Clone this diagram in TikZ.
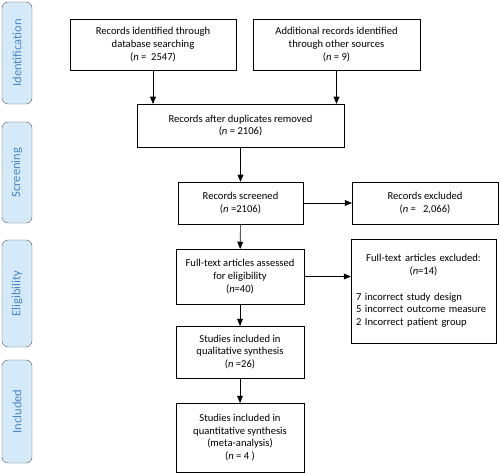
\documentclass[tikz,border=0pt]{standalone}
\usepackage{fontspec}
\setmainfont{Carlito}
\usepackage{tikz}
\usetikzlibrary{arrows,positioning}

\definecolor{stagefill}{HTML}{D5EAF8}
\definecolor{stagetext}{HTML}{4A86C5}
\definecolor{stageline}{HTML}{4D5966}

\begin{document}
\begin{tikzpicture}[
x=1pt,y=-1pt,
font=\fontsize{10.6}{12.8}\selectfont,
box/.style={draw,thin,align=center,inner sep=2pt},
stage/.style={draw=stageline,fill=stagefill,rounded corners=6pt,thin,
  minimum width=30pt,text=stagetext,font=\fontsize{12.5}{14}\selectfont},
link/.style={->,>=triangle 45,semithick}]
    % Stage labels
    \useasboundingbox (0,0) rectangle (500,473);
    \node[stage,minimum height=102pt] (ident) at (17,53)
        {\rotatebox{90}{Identification}};
    \node[stage,minimum height=101pt] (screen) at (17,172.5)
        {\rotatebox{90}{Screening}};
    \node[stage,minimum height=107pt] (elig) at (17,293.5)
        {\rotatebox{90}{Eligibility}};
    \node[stage,minimum height=103pt] (incl) at (17,411.5)
        {\rotatebox{90}{Included}};

    % Flow boxes
    \node[box,minimum width=166pt,minimum height=51pt] (db) at (153,44.5)
        {Records identified through\\database searching\\(\textit{n} =\ \ 2547)};
    \node[box,minimum width=167pt,minimum height=51pt] (other) at (336.5,44.5)
        {Additional records identified\\through other sources\\(\textit{n} = 9)};
    \node[box,minimum width=207pt,minimum height=43pt] (dup) at (240.5,125.5)
        {Records after duplicates removed\\(\textit{n} = 2106)};
    \node[box,minimum width=125pt,minimum height=42pt] (screened) at (240.5,203)
        {Records screened\\(\textit{n} =2106)};
    \node[box,minimum width=146pt,minimum height=42pt] (excl) at (425,203)
        {Records excluded\\(\textit{n} =\ \ \ 2,066)};
    \node[box,minimum width=128pt,minimum height=55pt] (full) at (240,276.5)
        {Full-text articles assessed\\for eligibility\\(\textit{n}=40)};
    \node[box,minimum width=145pt,minimum height=104pt,text width=135pt,
        align=left] (fullexcl) at (423.5,291)
        {{\centering Full-text articles excluded:\\(\textit{n}=14)\par}
        \vspace{12.8pt}
        7 incorrect study design\\5 incorrect outcome measure\\
        2 Incorrect patient group\par\vspace{24pt}};
    \node[box,minimum width=128pt,minimum height=52pt] (qual) at (240,352)
        {Studies included in\\qualitative synthesis\\(\textit{n} =26)};
    \node[box,minimum width=128pt,minimum height=69pt] (quant) at (240,437.5)
        {Studies included in\\quantitative synthesis\\(meta-analysis)\\(\textit{n} = 4 )};

    % Arrows
    \draw[link] (db.south) -- (db.south |- dup.north);
    \draw[link] (other.south) -- (other.south |- dup.north);
    \draw[link] (dup) -- (screened);
    \draw[link] (screened) -- (excl);
    \draw[link] (screened) -- (full);
    \draw[link] (full.east) -- (full.east -| fullexcl.west);
    \draw[link] (full) -- (qual);
    \draw[link] (qual) -- (quant);
\end{tikzpicture}
\end{document}
